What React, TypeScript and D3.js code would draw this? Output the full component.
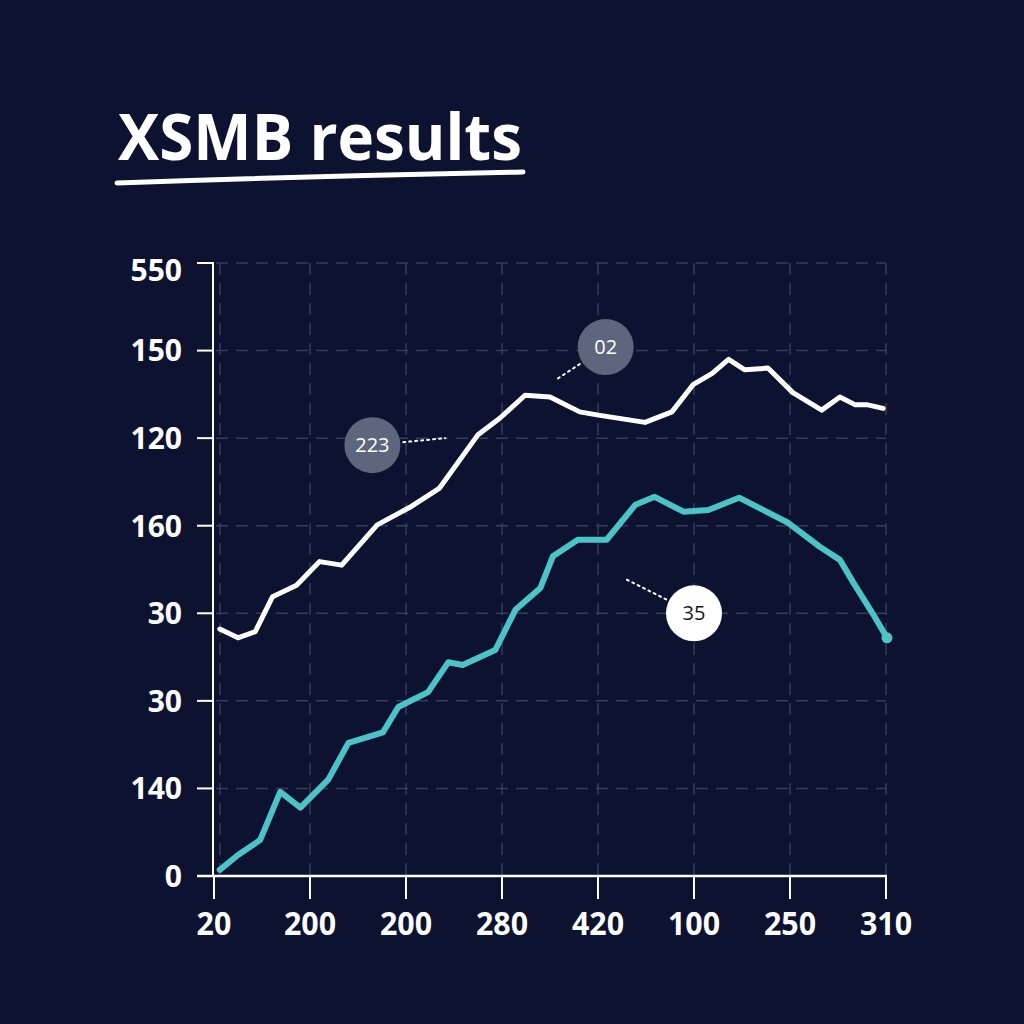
import React from "react";
import * as d3 from "d3";

const title = "XSMB results";
const xTickLabels = ["20", "200", "200", "280", "420", "100", "250", "310"];
const yTickLabels = ["0", "140", "30", "30", "160", "120", "150", "550"];

// x in category-index units (0..7), y in tick-index units (0..7)
const whiteX = [0.06, 0.25, 0.43, 0.61, 0.86, 1.1, 1.33, 1.7, 2.04, 2.35, 2.75, 2.98, 3.24, 3.5, 3.81, 4.02, 4.49, 4.77, 4.99, 5.19, 5.36, 5.53, 5.77, 6.03, 6.33, 6.52, 6.68, 6.81, 6.97];
const whiteY = [2.82, 2.72, 2.79, 3.19, 3.32, 3.59, 3.55, 4.01, 4.21, 4.43, 5.04, 5.23, 5.49, 5.47, 5.3, 5.26, 5.18, 5.3, 5.61, 5.74, 5.9, 5.78, 5.8, 5.52, 5.32, 5.47, 5.38, 5.38, 5.34];

const tealX = [0.06, 0.25, 0.48, 0.69, 0.9, 1.19, 1.4, 1.76, 1.92, 2.23, 2.44, 2.59, 2.93, 3.14, 3.4, 3.53, 3.79, 4.09, 4.39, 4.59, 4.89, 5.15, 5.47, 5.97, 6.31, 6.52, 6.66, 6.86, 7.01];
const tealY = [0.07, 0.24, 0.41, 0.96, 0.78, 1.1, 1.52, 1.64, 1.93, 2.1, 2.44, 2.41, 2.58, 3.04, 3.29, 3.65, 3.84, 3.84, 4.24, 4.33, 4.16, 4.18, 4.32, 4.04, 3.76, 3.61, 3.35, 3.0, 2.72];

const annLabels = ["223", "02", "35"];
const annX = [1.65, 4.08, 5.0];
const annY = [4.92, 6.04, 3.0];
const annLeadX = [2.41, 3.58, 4.27];
const annLeadY = [5.0, 5.68, 3.4];
const annLight = [false, false, true];

const BG = "#0c1230";
const GRID = "#363d5a";
const TEAL = "#4cc3c6";

export default function App() {
  const x = d3.scaleLinear().domain([0, 7]).range([214, 886]);
  const y = d3.scaleLinear().domain([0, 7]).range([876, 263]);
  const line = d3
    .line<[number, number]>()
    .x((d) => x(d[0]))
    .y((d) => y(d[1]))
    .curve(d3.curveLinear);
  const white: [number, number][] = whiteX.map((v, i) => [v, whiteY[i]]);
  const teal: [number, number][] = tealX.map((v, i) => [v, tealY[i]]);
  const idx = d3.range(8);
  const r = 28;

  return (
    <svg
      width={1024}
      height={1024}
      style={{ position: "absolute", left: 0, top: 0, display: "block" }}
    >
      <rect width={1024} height={1024} fill={BG} />
      <text
        x={118}
        y={160}
        fill="#ffffff"
        fontFamily="'Open Sans', 'Noto Sans', sans-serif"
        fontWeight={700}
        fontSize={64}
        textLength={404}
        lengthAdjust="spacingAndGlyphs"
      >
        {title}
      </text>
      <path
        d="M117,183 Q320,176 523,172"
        fill="none"
        stroke="#ffffff"
        strokeWidth={5}
        strokeLinecap="round"
      />

      {/* grid */}
      {idx.map((i) => (
        <line
          key={"h" + i}
          x1={216}
          x2={886}
          y1={y(i)}
          y2={y(i)}
          stroke={GRID}
          strokeWidth={1.5}
          strokeDasharray="12 8"
        />
      ))}
      {idx.map((i) => (
        <line
          key={"v" + i}
          x1={i === 0 ? x(0) + 6 : x(i)}
          x2={i === 0 ? x(0) + 6 : x(i)}
          y1={263}
          y2={876}
          stroke={GRID}
          strokeWidth={1.5}
          strokeDasharray="12 8"
        />
      ))}

      {/* axes */}
      <line x1={x(0) - 1} x2={x(0) - 1} y1={y(7)} y2={y(0)} stroke="#ffffff" strokeWidth={2} />
      <line x1={197} x2={x(7) + 1} y1={y(0)} y2={y(0)} stroke="#ffffff" strokeWidth={2.5} />
      {idx.map((i) => (
        <line key={"yt" + i} x1={197} x2={x(0)} y1={y(i)} y2={y(i)} stroke="#ffffff" strokeWidth={2} />
      ))}
      {idx.map((i) => (
        <line key={"xt" + i} x1={x(i)} x2={x(i)} y1={y(0)} y2={y(0) + 23} stroke="#ffffff" strokeWidth={2} />
      ))}
      {yTickLabels.map((t, i) => (
        <text
          key={"yl" + i}
          x={182}
          y={y(i) + (i === 7 ? 7 : 0)}
          dy="0.36em"
          textAnchor="end"
          fill="#ffffff"
          fontFamily="'Open Sans', 'Noto Sans', sans-serif"
          fontWeight={700}
          fontSize={30}
        >
          {t}
        </text>
      ))}
      {xTickLabels.map((t, i) => (
        <g key={"xl" + i} transform={`translate(${x(i)},935) scale(0.95,1)`}>
          <text
            x={0}
            y={0}
            textAnchor="middle"
            fill="#ffffff"
            fontFamily="'Open Sans', 'Noto Sans', sans-serif"
            fontWeight={700}
            fontSize={32}
          >
            {t}
          </text>
        </g>
      ))}

      {/* lines */}
      <path d={line(white) || ""} fill="none" stroke="#ffffff" strokeWidth={5} strokeLinejoin="round" strokeLinecap="round" />
      <path d={line(teal) || ""} fill="none" stroke={TEAL} strokeWidth={6} strokeLinejoin="round" strokeLinecap="round" />
      <circle cx={x(tealX[tealX.length - 1])} cy={y(tealY[tealY.length - 1])} r={5.5} fill={TEAL} />

      {/* annotations */}
      {annLabels.map((t, i) => {
        const cx = x(annX[i]);
        const cy = y(annY[i]);
        const lx = x(annLeadX[i]);
        const ly = y(annLeadY[i]);
        const ang = Math.atan2(ly - cy, lx - cx);
        const sx = cx + Math.cos(ang) * (r + 3);
        const sy = cy + Math.sin(ang) * (r + 3);
        return (
          <g key={"a" + i}>
            <line x1={sx} y1={sy} x2={lx} y2={ly} stroke="#ffffff" strokeWidth={2} strokeDasharray="2 4" strokeLinecap="round" />
            <circle cx={cx} cy={cy} r={r} fill={annLight[i] ? "#ffffff" : "#5d667c"} />
            <text
              x={cx}
              y={cy}
              dy="0.36em"
              textAnchor="middle"
              fill={annLight[i] ? "#111522" : "#ffffff"}
              fontFamily="'Open Sans', 'Noto Sans', sans-serif"
              fontSize={20}
            >
              {t}
            </text>
          </g>
        );
      })}
    </svg>
  );
}
